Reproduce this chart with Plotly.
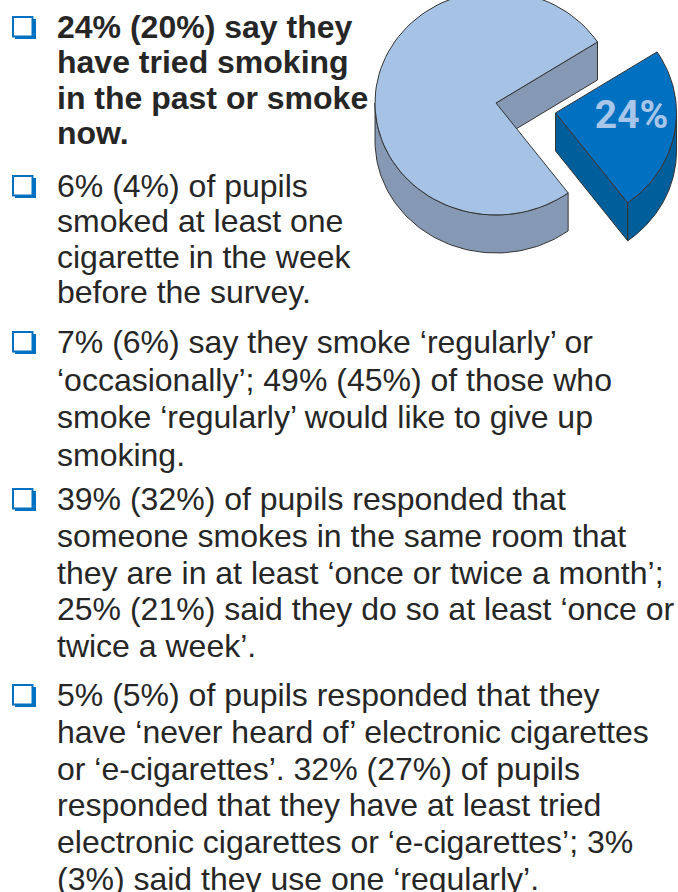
import numpy as np
import plotly.graph_objects as go

# ---------------------------------------------------------------------------
# Datos
# ---------------------------------------------------------------------------
pie_labels = ["Never tried", "Tried smoking / smoke now"]
pie_values = [76, 24]
pie_pull = [0.0, 0.5]

bullet_1 = ["24% (20%) say they", "have tried smoking", "in the past or smoke", "now."]
bullet_2 = ["6% (4%) of pupils", "smoked at least one", "cigarette in the week",
            "before the survey."]
bullet_3 = ["7% (6%) say they smoke \u2018regularly\u2019 or",
            "\u2018occasionally\u2019; 49% (45%) of those who",
            "smoke \u2018regularly\u2019 would like to give up", "smoking."]
bullet_4 = ["39% (32%) of pupils responded that",
            "someone smokes in the same room that",
            "they are in at least \u2018once or twice a month\u2019;",
            "25% (21%) said they do so at least \u2018once or", "twice a week\u2019."]
bullet_5 = ["5% (5%) of pupils responded that they",
            "have \u2018never heard of\u2019 electronic cigarettes",
            "or \u2018e-cigarettes\u2019. 32% (27%) of pupils",
            "responded that they have at least tried",
            "electronic cigarettes or \u2018e-cigarettes\u2019; 3%",
            "(3%) said they use one \u2018regularly\u2019."]
bullets = [bullet_1, bullet_2, bullet_3, bullet_4, bullet_5]
bullet_bold = [True, False, False, False, False]

# ---------------------------------------------------------------------------
# Estilo / geometria
# ---------------------------------------------------------------------------
W, H = 678, 892
TEXT_X = 55
FIRST_BASELINE = [38, 197, 353, 510, 706]
LINE_STEP = [35.3, 35.3, 37.5, 36.8, 36.8]
TEXT_COLOR = "#262626"
BLUE = "#0070C0"

CX, CY = 496, 103        # centro de la tarta (px)
RX, RY = 121, 112        # radios de la elipse
DEPTH = 38               # grosor 3D
START = 33               # angulo donde empieza la porcion separada (grados)
TOP_COLORS = ["#A6C3E6", BLUE]
SIDE_COLORS = ["#8699B4", "#005E9A"]
EDGE = "#333333"


def ring(a0, a1, dx, dy, down=0.0, n=90):
    t = np.radians(np.linspace(a0, a1, n))
    return CX + dx + RX * np.cos(t), CY + dy - RY * np.sin(t) + down


def front_parts(a0, a1):
    parts = []
    for k in (-1, 0, 1):
        lo, hi = max(a0, 180 + 360 * k), min(a1, 360 + 360 * k)
        if lo < hi:
            parts.append((lo, hi))
    return parts


def poly(fig, xs, ys, color):
    fig.add_trace(go.Scatter(
        x=np.append(xs, xs[0]), y=np.append(ys, ys[0]),
        mode="lines", fill="toself", fillcolor=color,
        line=dict(color=EDGE, width=1), hoverinfo="skip", showlegend=False,
    ))


fig = go.Figure()

total = float(sum(pie_values))
spans = [v / total * 360 for v in pie_values]
# porcion separada va en sentido horario desde START, el resto antihorario
slices = [(START, START + spans[0]), (START - spans[1], START)]

for i, (a0, a1) in enumerate(slices):
    mid = np.radians((a0 + a1) / 2)
    dx = pie_pull[i] * RX * np.cos(mid)
    dy = -pie_pull[i] * RY * np.sin(mid)
    ax, ay = CX + dx, CY + dy

    # caras radiales visibles
    for ang, visible in ((a0, np.cos(np.radians(a0)) > 0), (a1, np.cos(np.radians(a1)) < 0)):
        if visible:
            ex, ey = ring(ang, ang, dx, dy, n=1)
            poly(fig, np.array([ax, ex[0], ex[0], ax]),
                 np.array([ay, ey[0], ey[0] + DEPTH, ay + DEPTH]), SIDE_COLORS[i])

    # pared exterior visible
    for lo, hi in front_parts(a0, a1):
        tx, ty = ring(lo, hi, dx, dy)
        bx, by = ring(hi, lo, dx, dy, down=DEPTH)
        poly(fig, np.concatenate([tx, bx]), np.concatenate([ty, by]), SIDE_COLORS[i])

    # cara superior
    tx, ty = ring(a0, a1, dx, dy)
    poly(fig, np.concatenate([[ax], tx]), np.concatenate([[ay], ty]), TOP_COLORS[i])

# etiqueta de la porcion separada
a0, a1 = slices[1]
mid = np.radians((a0 + a1) / 2)
lab = np.radians((a0 + a1) / 2 + 6)
lx = CX + pie_pull[1] * RX * np.cos(mid) + 0.63 * RX * np.cos(lab)
ly = CY - pie_pull[1] * RY * np.sin(mid) - 0.63 * RY * np.sin(lab)
fig.add_trace(go.Scatter(
    x=[lx], y=[ly], mode="text", text=[f"{pie_values[1]}%"],
    textfont=dict(family="Roboto, Liberation Sans, sans-serif",
                  size=39, color="#A8C6EA", weight="bold"),
    hoverinfo="skip", showlegend=False,
))

# ---------------------------------------------------------------------------
# Texto con vinetas
# ---------------------------------------------------------------------------
annotations = []
shapes = []
for lines, b0, step, bold in zip(bullets, FIRST_BASELINE, LINE_STEP, bullet_bold):
    shapes.append(dict(type="rect", xref="x", yref="y", x0=15, x1=36, y0=b0 - 19, y1=b0 + 1,
                       fillcolor=BLUE, line=dict(width=0)))
    shapes.append(dict(type="rect", xref="x", yref="y", x0=13, x1=32.5, y0=b0 - 21, y1=b0 - 1.5,
                       fillcolor="white", line=dict(color=BLUE, width=2)))
    for k, line in enumerate(lines):
        annotations.append(dict(
            x=TEXT_X, y=b0 + k * step - 11, xref="x", yref="y",
            text=f"<b>{line}</b>" if bold else line,
            showarrow=False, xanchor="left", yanchor="middle",
            font=dict(family="Liberation Sans, Arial, sans-serif", size=32, color=TEXT_COLOR),
        ))

fig.update_layout(
    width=W, height=H,
    margin=dict(l=0, r=0, t=0, b=0),
    paper_bgcolor="white", plot_bgcolor="white",
    xaxis=dict(range=[0, W], visible=False, fixedrange=True),
    yaxis=dict(range=[H, 0], visible=False, fixedrange=True),
    annotations=annotations, shapes=shapes,
    showlegend=False,
)

# quitar el margen por defecto del <body> para que la figura ocupe toda la ventana
fig.write_html("out.html", config={"displayModeBar": False},
               post_script="document.body.style.margin = '0';")
